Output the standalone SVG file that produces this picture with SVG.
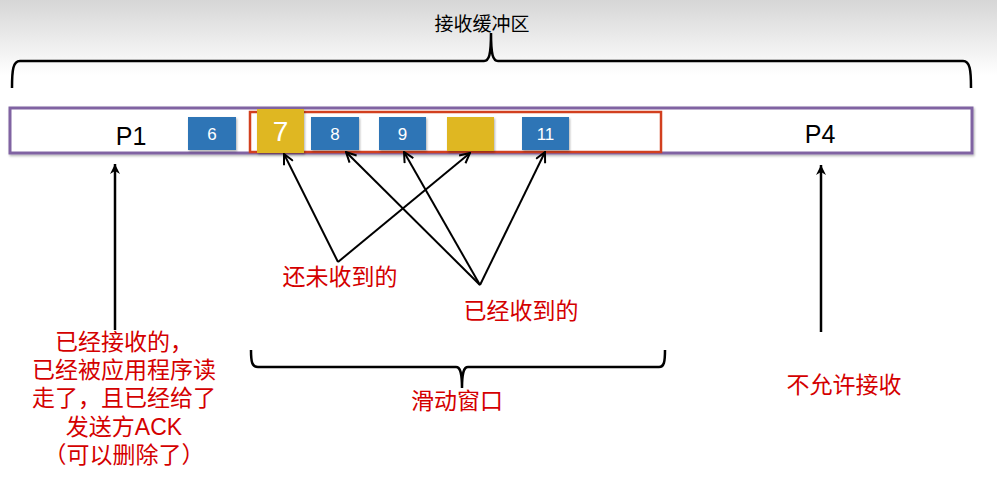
<svg xmlns="http://www.w3.org/2000/svg" width="997" height="483" viewBox="0 0 997 483">
<defs>
<linearGradient id="bg" x1="0" y1="0" x2="0" y2="1">
<stop offset="0" stop-color="#d6d6d6"/>
<stop offset="1" stop-color="#ffffff"/>
</linearGradient>
<marker id="ah" viewBox="0 0 12 12" refX="11" refY="6" markerWidth="12" markerHeight="12" markerUnits="userSpaceOnUse" orient="auto">
<path d="M1,1 L11,6 L1,11" fill="none" stroke="#000" stroke-width="2"/>
</marker>
<marker id="ahv" viewBox="0 0 12 12" refX="11" refY="6" markerWidth="12" markerHeight="12" markerUnits="userSpaceOnUse" orient="auto">
<path d="M1,1 L11,6 L1,11 L4,6 Z" fill="#000"/>
</marker>
<filter id="sh" x="-10%" y="-10%" width="130%" height="140%">
<feDropShadow dx="1" dy="1.5" stdDeviation="1" flood-color="#000" flood-opacity="0.3"/>
</filter>
</defs>
<style>
.cjk{font-family:"Liberation Sans","Noto Sans CJK SC",sans-serif;}
.red{fill:#d40000;font-size:23px;text-anchor:middle;}
.blue{fill:#2e75b6;}
.yel{fill:#dfb720;}
.num{fill:#fff;font-family:"Liberation Sans",sans-serif;font-size:17px;text-anchor:middle;}
.big{font-size:28px;}
.p{fill:#000;font-family:"Liberation Sans",sans-serif;font-size:25px;text-anchor:middle;}
.brace{fill:none;stroke:#000;stroke-width:2.5;}
.arr{fill:none;stroke:#000;stroke-width:2;marker-end:url(#ah);}
.arrv{fill:none;stroke:#000;stroke-width:2.5;marker-end:url(#ahv);}
</style>
<rect x="0" y="0" width="997" height="75" fill="url(#bg)"/>
<rect x="0" y="75" width="997" height="408" fill="#fff"/>

<g id="buffer-label">
<path class="brace" d="M12,88 C12,70 13,61 20,61 L484,61 C489,61 491,55 491,33 C491,55 493,61 498,61 L963,61 C970,61 971,70 971,88"/>
<text class="cjk" x="482" y="31" font-size="19" text-anchor="middle" fill="#000">接收缓冲区</text>
</g>

<g id="buffer">
<rect x="10" y="108" width="962" height="45" fill="#fff" stroke="#8064a2" stroke-width="3" filter="url(#sh)"/>
<text class="p" x="131" y="145">P1</text>
<text class="p" x="820" y="143">P4</text>
</g>

<g id="window">
<rect x="250" y="112" width="411" height="40" fill="none" stroke="#d2401f" stroke-width="2.5"/>
</g>

<g id="seg6"><rect class="blue" x="188" y="117" width="48" height="33" filter="url(#sh)"/><text class="num" x="212" y="140">6</text></g>
<g id="seg7"><rect class="yel" x="257" y="109" width="47" height="44" filter="url(#sh)"/><text class="num big" x="280.5" y="141">7</text></g>
<g id="seg8"><rect class="blue" x="311" y="117" width="48" height="33" filter="url(#sh)"/><text class="num" x="335" y="140">8</text></g>
<g id="seg9"><rect class="blue" x="379" y="117" width="47" height="33" filter="url(#sh)"/><text class="num" x="402.5" y="140">9</text></g>
<g id="seg10"><rect class="yel" x="447" y="117" width="47" height="34" filter="url(#sh)"/></g>
<g id="seg11"><rect class="blue" x="522" y="117" width="47" height="33" filter="url(#sh)"/><text class="num" x="545.5" y="140">11</text></g>

<g id="connectors">
<line class="arrv" x1="115" y1="330" x2="115" y2="164"/>
<line class="arrv" x1="821" y1="332" x2="821" y2="165"/>
<line class="arr" x1="338" y1="262" x2="284" y2="154"/>
<line class="arr" x1="338" y1="262" x2="470" y2="153"/>
<line class="arr" x1="480" y1="285" x2="346" y2="152"/>
<line class="arr" x1="480" y1="285" x2="404" y2="152"/>
<line class="arr" x1="480" y1="285" x2="545" y2="152"/>
</g>

<g id="not-received"><text class="cjk red" x="340" y="285">还未收到的</text></g>
<g id="received"><text class="cjk red" x="521" y="319">已经收到的</text></g>

<g id="sliding-window">
<path class="brace" d="M251,350 C251,362 252,367 258,367 L456,367 C460,367 462,372 462,388 C462,372 464,367 468,367 L659,367 C664,367 665,362 665,350"/>
<text class="cjk red" x="457" y="409">滑动窗口</text>
</g>

<g id="p1-note">
<text class="cjk red" x="124" y="350">已经接收的，</text>
<text class="cjk red" x="124" y="378">已经被应用程序读</text>
<text class="cjk red" x="124" y="406">走了，且已经给了</text>
<text class="cjk red" x="124" y="435">发送方ACK</text>
<text class="cjk red" x="124" y="463">（可以删除了）</text>
</g>

<g id="p4-note"><text class="cjk red" x="844" y="393">不允许接收</text></g>
</svg>
